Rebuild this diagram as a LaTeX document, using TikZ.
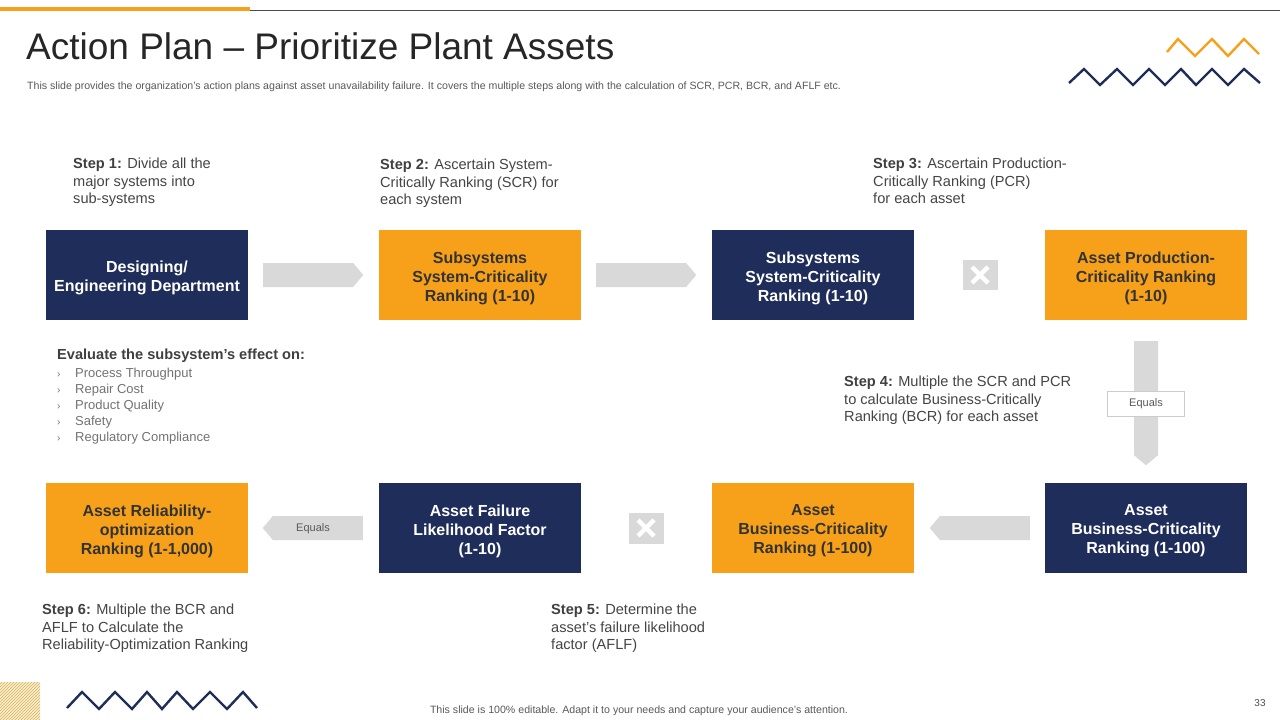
\documentclass[tikz,border=0pt]{standalone}
\usepackage{fontspec}
\setmainfont{Liberation Sans}
\usetikzlibrary{shapes.symbols,patterns}
\definecolor{navy}{HTML}{1F2D5A}
\definecolor{orng}{HTML}{F7A11A}
\definecolor{agray}{HTML}{D9D9D9}
\definecolor{txt}{HTML}{454545}
\definecolor{hatch}{HTML}{D9B64E}
\begin{document}
\begin{tikzpicture}[x=1pt,y=-1pt,
  boxnavy/.style={rectangle,fill=navy,text=white,minimum width=202pt,minimum height=90pt,inner sep=0pt,
    font=\fontsize{16}{19}\selectfont\bfseries,align=center},
  boxorange/.style={boxnavy,fill=orng,text=black!80},
  btext/.style={inner sep=0pt,font=\fontsize{16}{19}\selectfont\bfseries,align=center},
  blockarrow/.style={signal,fill=agray,draw=none,signal pointer angle=100,inner sep=0pt,
    font=\fontsize{11}{13}\selectfont,text=black!65},
  steptext/.style={anchor=north west,inner sep=0pt,align=left,text=txt,font=\fontsize{14.6}{17.8}\selectfont},
  crossbox/.style={rectangle,fill=agray,minimum width=35pt,minimum height=30pt,inner sep=0pt},
  zig/.style={line width=2.4pt,line join=miter},
]
\useasboundingbox (0,0) rectangle (1280,720);
\fill[white] (0,0) rectangle (1280,720);
% top rule
\fill[orng] (0,7) rectangle (250,10.5);
\draw[black!70,line width=0.8pt] (250,10) -- (1280,10);
% title
\node[anchor=base west,inner sep=0pt,font=\fontsize{37}{40}\selectfont,text=black!85] (title) at (26,59) {Action Plan -- Prioritize Plant Assets};
\node[anchor=base west,inner sep=0pt,font=\fontsize{10.6}{12}\selectfont,text=black!65] (sub) at (27,89) {This slide provides the organization’s action plans against asset unavailability failure. It covers the multiple steps along with the calculation of SCR, PCR,  BCR, and AFLF etc.};
% zigzags
\draw[zig,orng] (1167,52) -- (1178,39) -- (1195,56) -- (1212,39) -- (1228,56) -- (1244,39) -- (1259,54);
\draw[zig,navy] (1069,83) -- (1084,69) -- (1100,85) -- (1117,69) -- (1133,85) -- (1149,69) -- (1165,85) -- (1181,69) -- (1196,85) -- (1212,69) -- (1228,85) -- (1244,69) -- (1260,83);
\draw[zig,navy] (67,708) -- (82,692) -- (99,709) -- (115,692) -- (132,709) -- (147,692) -- (162,709) -- (177,692) -- (193,709) -- (210,692) -- (227,709) -- (243,692) -- (257,708);
% hatched square
\fill[hatch!25] (0,682) rectangle (40,720);
\fill[pattern=north east lines,pattern color=hatch] (0,682) rectangle (40,720);
% boxes row 1
\node[boxnavy] (b1) at (147,275) {};
\node[boxorange] (b2) at (480,275) {};
\node[boxnavy] (b3) at (813,275) {};
\node[boxorange] (b4) at (1146,275) {};
\node[btext,text=white] at ([yshift=-3pt]b1.center) {Designing/\\Engineering Department};
\node[btext,text=black!80] at ([yshift=-3pt]b2.center) {Subsystems\\System-Criticality\\Ranking (1-10)};
\node[btext,text=white] at ([yshift=-3pt]b3.center) {Subsystems\\System-Criticality\\Ranking (1-10)};
\node[btext,text=black!80] at ([yshift=-3pt]b4.center) {Asset Production-\\Criticality Ranking\\(1-10)};
% boxes row 2
\node[boxorange] (c1) at (147,528) {};
\node[boxnavy] (c2) at (480,528) {};
\node[boxorange] (c3) at (813,528) {};
\node[boxnavy] (c4) at (1146,528) {};
\node[btext,text=black!80] at ([yshift=-3pt]c1.center) {Asset Reliability-\\optimization\\Ranking (1-1,000)};
\node[btext,text=white] at ([yshift=-3pt]c2.center) {Asset Failure\\Likelihood Factor\\(1-10)};
\node[btext,text=black!80] at ([yshift=-3pt]c3.center) {Asset\\Business-Criticality\\Ranking (1-100)};
\node[btext,text=white] at ([yshift=-3pt]c4.center) {Asset\\Business-Criticality\\Ranking (1-100)};
% block arrows
\node[blockarrow,signal to=east,minimum width=100pt,minimum height=24pt,anchor=west] (a1) at (263,275) {};
\node[blockarrow,signal to=east,minimum width=100pt,minimum height=24pt,anchor=west] (a2) at (596,275) {};
\node[blockarrow,signal to=south,minimum width=24pt,minimum height=114pt,anchor=north] (a3) at (1146,341) {};
\node[rectangle,fill=white,draw=black!20,line width=0.6pt,minimum width=77pt,minimum height=25pt,inner sep=0pt,
  font=\fontsize{11}{13}\selectfont,text=black!65] (eq1) at (1146,403.5) {Equals};
\node[blockarrow,signal to=west,minimum width=100pt,minimum height=24pt,anchor=east] (a4) at (1030,528) {};
\node[blockarrow,signal to=west,minimum width=100pt,minimum height=24pt,anchor=east] (a5) at (363,528) {};
\node[inner sep=0pt,font=\fontsize{11}{13}\selectfont,text=black!65] (eq2) at (313,529) {Equals};
% crosses
\node[crossbox] (x1) at (980,275) {};
\node[crossbox,minimum height=31pt] (x2) at (646,528) {};
\foreach \n in {x1,x2}{
  \draw[white,line width=4.5pt] ([shift={(-8,-8)}]\n.center) -- ([shift={(8,8)}]\n.center);
  \draw[white,line width=4.5pt] ([shift={(-8,8)}]\n.center) -- ([shift={(8,-8)}]\n.center);
}
% step texts
\node[steptext] (s1) at (73,157.5) {\textbf{\color{black!75}Step 1:} Divide all the\\major systems into\\sub-systems};
\node[steptext] (s2) at (380,158.5) {\textbf{\color{black!75}Step 2:} Ascertain System-\\Critically Ranking (SCR) for\\each system};
\node[steptext] (s3) at (873,157.5) {\textbf{\color{black!75}Step 3:} Ascertain Production-\\Critically Ranking (PCR)\\for each asset};
\node[steptext] (s4) at (844,375.5) {\textbf{\color{black!75}Step 4:} Multiple the SCR and PCR\\to calculate Business-Critically\\Ranking (BCR) for each asset};
\node[steptext] (s5) at (551,603.5) {\textbf{\color{black!75}Step 5:} Determine the\\asset’s failure likelihood\\factor (AFLF)};
\node[steptext] (s6) at (42,603.5) {\textbf{\color{black!75}Step 6:} Multiple the BCR and\\AFLF to Calculate the\\Reliability-Optimization Ranking};
% evaluate list
\node[anchor=north west,inner sep=0pt,font=\fontsize{14.6}{16}\selectfont\bfseries,text=black!75] (ev) at (57,348.5) {Evaluate the subsystem’s effect on:};
\node[anchor=north west,inner sep=0pt,align=left,text=black!55,font=\fontsize{13}{16}\selectfont] (evl) at (57,367.5)
 {\makebox[18pt][l]{\fontsize{10}{10}\selectfont›}Process Throughput\\
  \makebox[18pt][l]{\fontsize{10}{10}\selectfont›}Repair Cost\\
  \makebox[18pt][l]{\fontsize{10}{10}\selectfont›}Product Quality\\
  \makebox[18pt][l]{\fontsize{10}{10}\selectfont›}Safety\\
  \makebox[18pt][l]{\fontsize{10}{10}\selectfont›}Regulatory Compliance};
% footer
\node[anchor=base,inner sep=0pt,font=\fontsize{10.6}{12}\selectfont,text=black!65] (foot) at (639,713) {This slide is 100\% editable.  Adapt it to your needs and capture your audience’s attention.};
\node[anchor=base,inner sep=0pt,font=\fontsize{10}{11}\selectfont,text=black!70] (pg) at (1260,706) {33};
\end{tikzpicture}
\end{document}
